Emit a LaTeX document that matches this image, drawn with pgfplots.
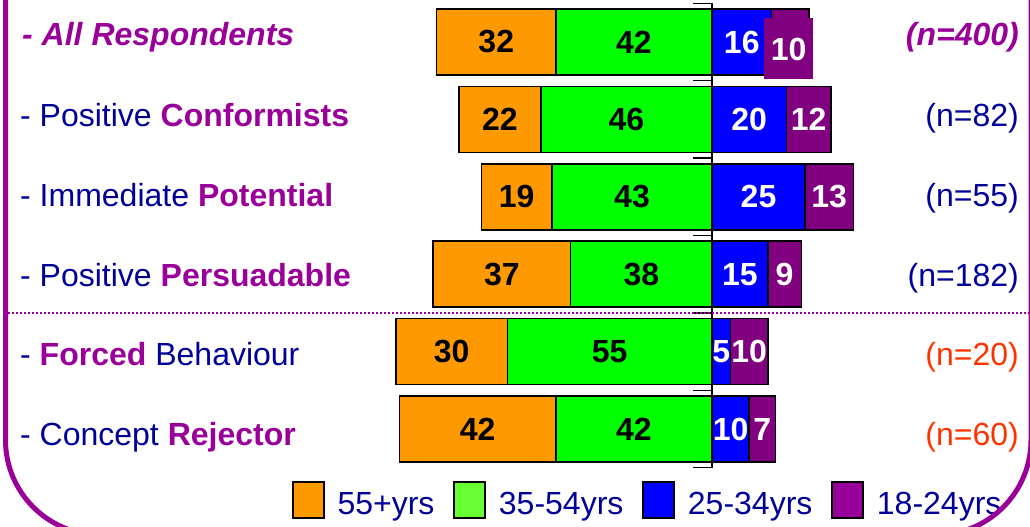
\documentclass[border=0pt]{standalone}
\usepackage{fontspec}
\setmainfont{Liberation Sans}
\usepackage{pgfplots}
\usepackage{pgfplotstable}
\pgfplotsset{compat=1.18}
\definecolor{barorange}{HTML}{FF9900}
\definecolor{bargreen}{HTML}{00FF00}
\definecolor{barblue}{HTML}{0000FF}
\definecolor{barpurple}{HTML}{800080}
\definecolor{legorange}{HTML}{FF9900}
\definecolor{leggreen}{HTML}{66FF33}
\definecolor{legblue}{HTML}{0000FF}
\definecolor{legpurple}{HTML}{990099}
\definecolor{navy}{HTML}{000099}
\definecolor{txtpurple}{HTML}{990099}
\definecolor{nred}{HTML}{FF3300}

\pgfplotstableread{
y o g b p
-1 32 42 16 10
-2 22 46 20 12
-3 19 43 25 13
-4 37 38 15 9
-5 30 55 5 10
-6 42 42 10 7
}\agedata

\newcommand{\bignum}{\bfseries\fontsize{32bp}{38bp}\selectfont}
\newcommand{\txt}{\fontsize{32bp}{38bp}\selectfont}

\pgfplotsset{common/.style={at={(0,0)}, anchor=south west, scale only axis,
  width=1030bp, height=527bp, xmin=-191.4, xmax=85.48, ymin=-7.266, ymax=-0.4574,
  hide axis, clip=false},
  lab/.style={forget plot, draw=none, mark=none, nodes near coords,
  point meta=explicit symbolic,
  every node near coord/.append style={anchor=center, font=\bignum, inner sep=0pt}}}

\begin{document}
\begin{tikzpicture}
% left side (stacked outward)
\begin{axis}[common, xbar stacked, bar width=66bp]
\addplot[fill=bargreen, draw=black, line width=1.5bp] table[x expr=-\thisrow{g}, y=y]{\agedata};
\addplot[fill=barorange, draw=black, line width=1.5bp] table[x expr=-\thisrow{o}, y=y]{\agedata};
\end{axis}
% right side
\begin{axis}[common, xbar stacked, bar width=66bp]
\addplot[fill=barblue, draw=black, line width=1.5bp] table[x=b, y=y]{\agedata};
\addplot[fill=barpurple, draw=black, line width=1.5bp] table[x=p, y=y]{\agedata};
\end{axis}
% labels, centre line, legend
\begin{axis}[common,
  legend columns=4,
  legend cell align=left,
  legend style={at={(rel axis cs:0.2835,0.0512)}, anchor=west, draw=none, fill=none,
    inner sep=0pt, outer sep=0pt, font=\txt, text=navy,
    nodes={inner sep=0pt, yshift=9bp},
    /tikz/every odd column/.append style={column sep=13bp},
    /tikz/every even column/.append style={column sep=19bp}},
  legend image code/.code={\draw[#1] (0bp,-5bp) rectangle (31bp,31bp);}]
\addplot[lab, every node near coord/.append style={text=black}] table[x expr=-\thisrow{g}/2, y=y, meta=g]{\agedata};
\addplot[lab, every node near coord/.append style={text=black}] table[x expr=-\thisrow{g}-\thisrow{o}/2, y=y, meta=o]{\agedata};
\addplot[lab, every node near coord/.append style={text=white}] table[x expr=\thisrow{b}/2, y=y, meta=b]{\agedata};
\addplot[lab, restrict y to domain=-6.5:-1.5, every node near coord/.append style={text=white}] table[x expr=\thisrow{b}+\thisrow{p}/2, y=y, meta=p]{\agedata};
\addplot[lab, restrict y to domain=-1.5:-0.5, every node near coord/.append style={text=white, fill=barpurple, minimum width=49bp, minimum height=61bp, yshift=-7bp, xshift=-1.5bp}] table[x expr=\thisrow{b}+\thisrow{p}/2, y=y, meta=p]{\agedata};
\draw[black, line width=1.5bp] (axis cs:0,-0.5) -- (axis cs:0,-6.5);
\draw[black, line width=1.5bp]
  (axis cs:-5.1,-0.5) -- (axis cs:0,-0.5)
  (axis cs:-5.1,-1.5) -- (axis cs:0,-1.5)
  (axis cs:-5.1,-2.5) -- (axis cs:0,-2.5)
  (axis cs:-5.1,-3.5) -- (axis cs:0,-3.5)
  (axis cs:-5.1,-4.5) -- (axis cs:0,-4.5)
  (axis cs:-5.1,-5.5) -- (axis cs:0,-5.5)
  (axis cs:-5.1,-6.5) -- (axis cs:0,-6.5);
\addlegendimage{fill=legorange, draw=black, line width=1.5bp}
\addlegendentry{55+yrs}
\addlegendimage{fill=leggreen, draw=black, line width=1.5bp}
\addlegendentry{35-54yrs}
\addlegendimage{fill=legblue, draw=black, line width=1.5bp}
\addlegendentry{25-34yrs}
\addlegendimage{fill=legpurple, draw=black, line width=1.5bp}
\addlegendentry{18-24yrs}
\end{axis}

% separator
\draw[txtpurple, line width=1.5bp, dash pattern=on 1.5bp off 2.5bp] (8bp,214bp) -- (1030bp,214bp);

% category names
\begin{scope}[every node/.style={inner sep=0pt, anchor=base west, font=\txt}]
\node[text=txtpurple, font=\txt\bfseries\itshape] at (22bp,481bp) {- All Respondents};
\node at (20bp,400bp) {\color{navy}- Positive \color{txtpurple}\bfseries Conformists};
\node at (20bp,320bp) {\color{navy}- Immediate \color{txtpurple}\bfseries Potential};
\node at (20bp,240bp) {\color{navy}- Positive \color{txtpurple}\bfseries Persuadable};
\node at (20bp,161bp) {\color{navy}- {\color{txtpurple}\bfseries Forced} Behaviour};
\node at (20bp,81bp) {\color{navy}- Concept \color{txtpurple}\bfseries Rejector};
\end{scope}
\begin{scope}[every node/.style={inner sep=0pt, anchor=base east, font=\txt}]
\node[text=txtpurple, font=\txt\bfseries\itshape] at (1019bp,481bp) {(n=400)};
\node[text=navy] at (1019bp,400bp) {(n=82)};
\node[text=navy] at (1019bp,320bp) {(n=55)};
\node[text=navy] at (1019bp,240bp) {(n=182)};
\node[text=nred] at (1019bp,161bp) {(n=20)};
\node[text=nred] at (1019bp,81bp) {(n=60)};
\end{scope}

% frame
\draw[txtpurple, line width=5bp, rounded corners=95bp] (5.5bp,650bp) -- (5.5bp,-8bp) -- (1031bp,-8bp) -- (1031bp,650bp);

\pgfresetboundingbox
\useasboundingbox (0,0) rectangle (1030bp,527bp);
\end{tikzpicture}
\end{document}
